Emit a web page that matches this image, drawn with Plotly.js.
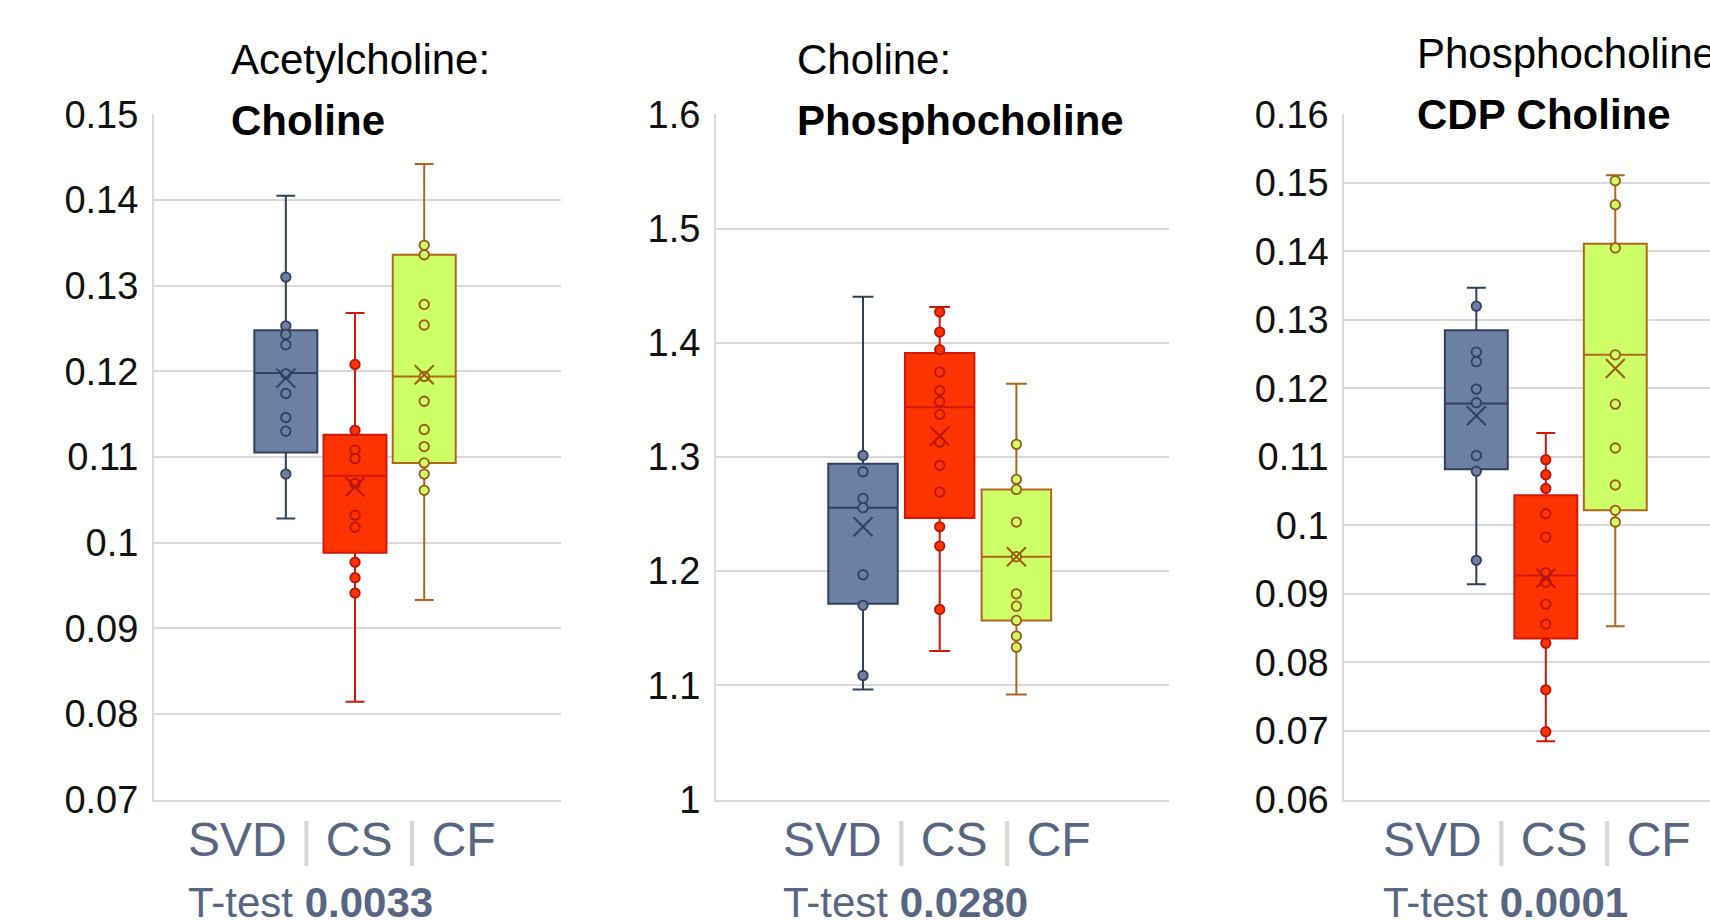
<!DOCTYPE html>
<html>
<head>
<meta charset="utf-8">
<script src="https://cdn.plot.ly/plotly-3.0.1.min.js"></script>
<style>
  html, body { margin: 0; padding: 0; background: #ffffff; }
  #chart { width: 1710px; height: 920px; }
</style>
</head>
<body>
<div id="chart"></div>
<script>
// ---------------- DATA ----------------
const groups = ['SVD', 'CS', 'CF'];
const panelTitles = ['Acetylcholine:', 'Choline:', 'Phosphocholine:'];
const panelSubtitles = ['Choline', 'Phosphocholine', 'CDP Choline'];
const tTestValues = ['0.0033', '0.0280', '0.0001'];

// Panel 1: Acetylcholine : Choline   (order SVD, CS, CF)
const p1Q1     = [0.1105, 0.0988, 0.1093];
const p1Median = [0.1198, 0.1078, 0.1194];
const p1Q3     = [0.1248, 0.1126, 0.1336];
const p1Lower  = [0.1028, 0.0814, 0.0933];
const p1Upper  = [0.1405, 0.1268, 0.1442];
const p1Mean   = [0.1192, 0.1065, 0.1196];
const p1PointsSVD = [0.1310, 0.1253, 0.1243, 0.1231, 0.1197, 0.1174, 0.1146, 0.1130, 0.1080];
const p1PointsCS  = [0.1208, 0.1131, 0.1108, 0.1098, 0.1069, 0.1032, 0.1018, 0.0977, 0.0959, 0.0941];
const p1PointsCF  = [0.1347, 0.1336, 0.1278, 0.1254, 0.1194, 0.1165, 0.1132, 0.1112, 0.1093, 0.1080, 0.1061];
const p1TickVals = [0.07, 0.08, 0.09, 0.10, 0.11, 0.12, 0.13, 0.14, 0.15];
const p1TickText = ['0.07', '0.08', '0.09', '0.1', '0.11', '0.12', '0.13', '0.14', '0.15'];

// Panel 2: Choline : Phosphocholine
const p2Q1     = [1.1714, 1.2464, 1.1568];
const p2Median = [1.2555, 1.3434, 1.2126];
const p2Q3     = [1.2940, 1.3910, 1.2715];
const p2Lower  = [1.0964, 1.1300, 1.0920];
const p2Upper  = [1.4403, 1.4312, 1.3641];
const p2Mean   = [1.2388, 1.3182, 1.2126];
const p2PointsSVD = [1.3013, 1.2870, 1.2636, 1.2555, 1.1968, 1.1700, 1.1086];
const p2PointsCS  = [1.4269, 1.4093, 1.3939, 1.3743, 1.3582, 1.3483, 1.3372, 1.3130, 1.2926, 1.2692, 1.2388, 1.2219, 1.1664];
const p2PointsCF  = [1.3110, 1.2803, 1.2715, 1.2429, 1.2126, 1.1801, 1.1693, 1.1568, 1.1431, 1.1334];
const p2TickVals = [1.0, 1.1, 1.2, 1.3, 1.4, 1.5, 1.6];
const p2TickText = ['1', '1.1', '1.2', '1.3', '1.4', '1.5', '1.6'];

// Panel 3: Phosphocholine : CDP Choline
const p3Q1     = [0.1082, 0.0835, 0.1022];
const p3Median = [0.1178, 0.0927, 0.1249];
const p3Q3     = [0.1285, 0.1044, 0.1411];
const p3Lower  = [0.0914, 0.0685, 0.0853];
const p3Upper  = [0.1347, 0.1135, 0.1511];
const p3Mean   = [0.1160, 0.0923, 0.1229];
const p3PointsSVD = [0.1320, 0.1253, 0.1239, 0.1199, 0.1179, 0.1102, 0.1079, 0.0949];
const p3PointsCS  = [0.1096, 0.1074, 0.1054, 0.1017, 0.0983, 0.0931, 0.0917, 0.0885, 0.0856, 0.0828, 0.0760, 0.0699];
const p3PointsCF  = [0.1503, 0.1468, 0.1405, 0.1249, 0.1177, 0.1113, 0.1059, 0.1022, 0.1005];
const p3TickVals = [0.06, 0.07, 0.08, 0.09, 0.10, 0.11, 0.12, 0.13, 0.14, 0.15, 0.16];
const p3TickText = ['0.06', '0.07', '0.08', '0.09', '0.1', '0.11', '0.12', '0.13', '0.14', '0.15', '0.16'];

// ---------------- STYLE ----------------
const W = 1710, H = 920;
const FONT = 'Liberation Sans, Arial, sans-serif';
const fillColors = ['#6b80a3', '#ff3300', '#ccff66'];
const lineColors = ['#2f4060', '#d0180c', '#b0661c'];
const pointLine  = ['#2f4060', '#b8140c', '#9a5a14'];
const labelColor = '#566683';
const gridColor  = '#d9d9d9';

const px = v => v / W;
const py = v => 1 - v / H;

const panels = [
  { q1: p1Q1, med: p1Median, q3: p1Q3, lo: p1Lower, hi: p1Upper, mean: p1Mean,
    pts: [p1PointsSVD, p1PointsCS, p1PointsCF], tv: p1TickVals, tt: p1TickText,
    range: [0.07, 0.15], xd: [154, 560.6], xr: [-1.905, 3.971], bw: 0.91,
    titleX: 229, t1y: 59, t2y: 120, cover: [210.5, 562], labX: 186 },
  { q1: p2Q1, med: p2Median, q3: p2Q3, lo: p2Lower, hi: p2Upper, mean: p2Mean,
    pts: [p2PointsSVD, p2PointsCS, p2PointsCF], tv: p2TickVals, tt: p2TickText,
    range: [1.0, 1.6], xd: [716, 1169], xr: [-1.917, 3.99], bw: 0.906,
    titleX: 795, t1y: 59, t2y: 120, cover: [777, 1160.5], labX: 781 },
  { q1: p3Q1, med: p3Median, q3: p3Q3, lo: p3Lower, hi: p3Upper, mean: p3Mean,
    pts: [p3PointsSVD, p3PointsCS, p3PointsCF], tv: p3TickVals, tt: p3TickText,
    range: [0.06, 0.16], xd: [1344.3, 1710], xr: [-1.9, 3.363], bw: 0.905,
    titleX: 1415, t1y: 54, t2y: 114, cover: [1396.7, 1712], labX: 1381 }
];

const yDomain = [py(799.5), py(114.3)];
const traces = [];
const layout = {
  width: W, height: H,
  margin: { l: 0, r: 0, t: 0, b: 0 },
  paper_bgcolor: '#ffffff', plot_bgcolor: '#ffffff',
  showlegend: false,
  hovermode: false,
  font: { family: FONT, color: '#000000' },
  annotations: [],
  shapes: []
};

panels.forEach((p, i) => {
  const n = i === 0 ? '' : String(i + 1);
  const xa = 'x' + n, ya = 'y' + n;

  groups.forEach((g, k) => {
    traces.push({
      type: 'box', xaxis: xa, yaxis: ya, name: g,
      x: [k], q1: [p.q1[k]], median: [p.med[k]], q3: [p.q3[k]],
      lowerfence: [p.lo[k]], upperfence: [p.hi[k]],
      width: p.bw, whiskerwidth: 0.3, boxpoints: false,
      fillcolor: fillColors[k],
      line: { color: lineColors[k], width: 2 }
    });
    traces.push({
      type: 'scatter', mode: 'markers', xaxis: xa, yaxis: ya,
      x: p.pts[k].map(() => k), y: p.pts[k],
      marker: { symbol: 'circle', size: 9.5, color: fillColors[k],
                line: { color: pointLine[k], width: 1.8 } }
    });
    traces.push({
      type: 'scatter', mode: 'markers', xaxis: xa, yaxis: ya,
      x: [k], y: [p.mean[k]],
      marker: { symbol: 'x-thin-open', size: 19, color: pointLine[k],
                line: { color: pointLine[k], width: 2 } }
    });
  });

  layout['xaxis' + n] = {
    domain: [px(p.xd[0]), Math.min(1, px(p.xd[1]))],
    range: p.xr, anchor: ya,
    showgrid: false, zeroline: false, showticklabels: false, ticks: '',
    showline: true, linecolor: gridColor, linewidth: 2, fixedrange: true
  };
  layout['yaxis' + n] = {
    domain: yDomain, range: p.range, anchor: xa,
    tickmode: 'array', tickvals: p.tv, ticktext: p.tt,
    showgrid: true, gridcolor: gridColor, gridwidth: 2,
    zeroline: false, ticks: '', ticklabelstandoff: 6,
    tickfont: { family: FONT, size: 38, color: '#111111' },
    showline: true, linecolor: gridColor, linewidth: 2, fixedrange: true
  };

  // white band hiding the top gridline behind the panel title
  layout.shapes.push({
    type: 'rect', xref: 'paper', yref: 'paper', layer: 'above',
    x0: px(p.cover[0]), x1: px(p.cover[1]), y0: py(120), y1: py(109),
    fillcolor: '#ffffff', line: { width: 0 }
  });

  layout.annotations.push({
    xref: 'paper', yref: 'paper', x: px(p.titleX), y: py(p.t1y),
    xanchor: 'left', yanchor: 'middle', showarrow: false,
    text: panelTitles[i], font: { family: FONT, size: 42, color: '#000000' }
  });
  layout.annotations.push({
    xref: 'paper', yref: 'paper', x: px(p.titleX), y: py(p.t2y),
    xanchor: 'left', yanchor: 'middle', showarrow: false,
    text: '<b>' + panelSubtitles[i] + '</b>', font: { family: FONT, size: 42, color: '#000000' }
  });
  const sep = ' <span style="color:#d6d6d6">|</span> ';
  layout.annotations.push({
    xref: 'paper', yref: 'paper', x: px(p.labX), y: py(839),
    xanchor: 'left', yanchor: 'middle', showarrow: false,
    text: groups.join(sep), font: { family: FONT, size: 48, color: labelColor }
  });
  layout.annotations.push({
    xref: 'paper', yref: 'paper', x: px(p.labX), y: py(902),
    xanchor: 'left', yanchor: 'middle', showarrow: false,
    text: 'T-test <b>' + tTestValues[i] + '</b>', font: { family: FONT, size: 42, color: labelColor }
  });
});

Plotly.newPlot('chart', traces, layout, { displayModeBar: false, staticPlot: true });
</script>
</body>
</html>
